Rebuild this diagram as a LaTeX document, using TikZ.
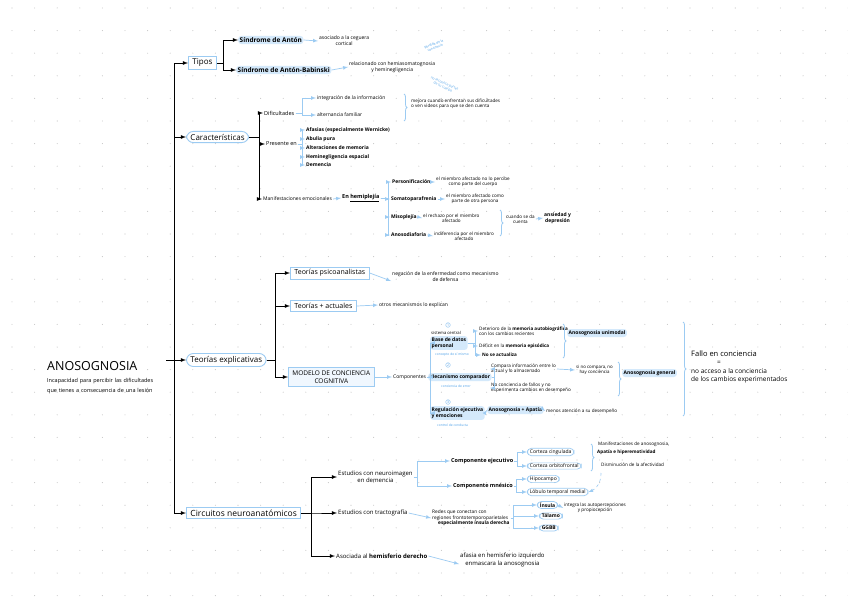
\documentclass[tikz,border=0pt]{standalone}
\usepackage{fontspec}
\setmainfont{Open Sans}
\usetikzlibrary{arrows,positioning}
\usetikzlibrary{decorations.pathreplacing}
\definecolor{lblue}{HTML}{9CCBF2}
\definecolor{hlblue}{HTML}{D4E9FB}
\definecolor{pen}{HTML}{4A9FE8}
\colorlet{dotc}{black!22}

\begin{document}
\begin{tikzpicture}[x=1pt,y=-1pt]
\tikzstyle{note}=[font=\fontsize{5}{5.8}\selectfont,inner sep=1pt,align=left,anchor=west]
\tikzstyle{bnote}=[note,font=\fontsize{5}{5.8}\selectfont\bfseries]
\tikzstyle{lab}=[note,font=\fontsize{6}{7.2}\selectfont]
\tikzstyle{pennote}=[note,text=pen,font=\fontsize{3.3}{3.9}\selectfont,align=center]
\tikzstyle{head}=[font=\fontsize{8}{9.5}\selectfont,anchor=west,draw=lblue,line width=0.9pt,inner xsep=4pt,inner ysep=2.5pt,fill=white]
\tikzstyle{headr}=[head,rounded corners=7pt]
\tikzstyle{hl}=[fill=hlblue,rounded corners=3pt,inner sep=1.5pt]
\tikzstyle{oval}=[draw=lblue,line width=0.7pt,rounded corners=4pt,inner xsep=2.5pt,inner ysep=1.2pt]
\tikzstyle{num}=[circle,draw=lblue,line width=0.5pt,inner sep=0.5pt,text=pen,font=\fontsize{3.5}{4}\selectfont]
\tikzstyle{blk}=[draw=black,line width=0.8pt,-latex]
\tikzstyle{blu}=[draw=lblue,line width=0.7pt,-latex]
\tikzstyle{curly}=[draw=lblue,line width=0.8pt,decorate,decoration={brace,amplitude=3pt}]

\useasboundingbox (0,0) rectangle (848,599);
\fill[white] (0,0) rectangle (848,599);
\foreach \i in {0,...,37}
  \foreach \j in {0,...,26}
    \fill[dotc] (12+\i*22.6,8+\j*22.6) circle (0.55pt);

% title
\node[anchor=west,inner sep=1pt,font=\fontsize{12.5}{14}\selectfont] (anos) at (46,366) {ANOSOGNOSIA};
\node[anchor=north west,inner sep=1pt,align=left,text width=112,font=\fontsize{5.5}{9.6}\selectfont] (anosd) at (46,377) {Incapacidad para percibir las dificultades que tienes a consecuencia de una lesión};

% main branches
\node[head] (tipos) at (188,63) {Tipos};
\node[headr] (carac) at (186,137) {Características};
\node[headr] (teor) at (186,360) {Teorías explicativas};
\node[head,font=\fontsize{8.5}{10}\selectfont] (circ) at (186,513) {Circuitos neuroanatómicos};

\coordinate (sp) at (166,360);
\draw[blk] (sp) -- ++(8,0) |- (tipos.west);
\draw[blk] (sp) -- ++(8,0) |- (carac.west);
\draw[blk] (sp) -- (teor.west);
\draw[blk] (sp) -- ++(8,0) |- (circ.west);

% Tipos
\node[note,hl,font=\fontsize{6.5}{7.5}\selectfont\bfseries] (anton) at (238,40) {Síndrome de Antón};
\node[note,hl,font=\fontsize{6.5}{7.5}\selectfont\bfseries] (babin) at (236,70) {Síndrome de Antón-Babinski};
\draw[blk] (tipos.east) -- ++(6,0) |- (anton.west);
\draw[blk] (tipos.east) -- ++(6,0) |- (babin.west);
\node[note,align=center] (antond) at (318,41) {asociado a la ceguera\\cortical};
\node[note,align=center] (babind) at (348,67) {relacionado con hemiasomatognosia\\y heminegligencia};
\draw[blu] (anton.east) -- (antond.west);
\draw[blu] (babin.east) -- (babind.west);
\node[pennote,rotate=22] (bab1) at (424,50) {pérdida de la\\conciencia};
\node[pennote,rotate=-24] (bab2) at (429,79) {no reconoce partes\\de su cuerpo};

% Caracteristicas
\node[lab,font=\fontsize{5.5}{6.5}\selectfont] (dific) at (263,113) {Dificultades};
\node[lab,font=\fontsize{5.5}{6.5}\selectfont] (pres) at (265,144) {Presente en};
\node[lab,font=\fontsize{5}{6}\selectfont] (manif) at (262,199) {Manifestaciones emocionales};
\draw[blk] (carac.east) -- ++(10,0) |- (dific.west);
\draw[blk] (carac.east) -- ++(10,0) |- (pres.west);
\draw[blk] (carac.east) -- ++(10,0) |- (manif.west);

\node[note] (integ) at (316,98) {integración de la información};
\node[note] (alter) at (316,115) {alternancia familiar};
\draw[blu] (dific.east) -- ++(7,0) |- (integ.west);
\draw[blu] (dific.east) -- ++(7,0) |- (alter.west);
\draw[curly] (404,94) -- (404,121);
\node[note,font=\fontsize{4.6}{5.4}\selectfont] (mejora) at (410,104) {mejora cuando enfrentan sus dificultades\\o ven videos para que se den cuenta};

\node[bnote] (afas) at (305,130) {Afasias (especialmente Wernicke)};
\node[bnote] (abul) at (305,139) {Abulia pura};
\node[bnote] (altm) at (305,148) {Alteraciones de memoria};
\node[bnote] (hemi) at (305,157) {Heminegligencia espacial};
\node[bnote] (dem) at (305,165) {Demencia};
\foreach \c in {afas,abul,altm,hemi,dem}
  \draw[blu] (pres.east) -- ++(4,0) |- (\c.west);

\node[bnote,font=\fontsize{5.5}{6.5}\selectfont\bfseries] (enhem) at (341,198) {En \underline{hemiplejía}};
\draw[blu] (manif.east) -- (enhem.west);
\node[bnote] (pers) at (391,182) {Personificación};
\node[bnote] (soma) at (390,199) {Somatoparafrenia};
\node[bnote] (miso) at (390,217) {Misoplejía};
\node[bnote] (anodia) at (390,235) {Anosodiaforia};
\foreach \c in {pers,soma,miso,anodia}
  \draw[blu] (enhem.east) -- ++(8,0) |- (\c.west);
\node[note,align=center,font=\fontsize{4.6}{5.4}\selectfont] (persd) at (435,182) {el miembro afectado no lo percibe\\como parte del cuerpo};
\node[note,align=center,font=\fontsize{4.6}{5.4}\selectfont] (somad) at (445,199) {el miembro afectado como\\parte de otra persona};
\node[note,align=center,font=\fontsize{4.6}{5.4}\selectfont] (misod) at (422,218) {el rechazo por el miembro\\afectado};
\node[note,align=center,font=\fontsize{4.6}{5.4}\selectfont] (anodiad) at (433,236) {indiferencia por el miembro\\afectado};
\draw[blu] (pers.east) -- (persd.west);
\draw[blu] (soma.east) -- (somad.west);
\draw[blu] (miso.east) -- (misod.west);
\draw[blu] (anodia.east) -- (anodiad.west);
\draw[curly] (500,210) -- (500,236);
\node[note,align=center,font=\fontsize{4.6}{5.4}\selectfont] (cuando) at (505,219) {cuando se da\\cuenta};
\node[bnote,align=center] (ansi) at (543,218) {ansiedad y\\depresión};
\draw[blu] (cuando.east) -- (ansi.west);

% Teorias explicativas
\node[head,font=\fontsize{7}{8}\selectfont] (psico) at (290,273) {Teorías psicoanalistas};
\node[head,font=\fontsize{7}{8}\selectfont] (actual) at (290,306) {Teorías + actuales};
\node[head,fill=hlblue!35,align=center,font=\fontsize{6.5}{8.5}\selectfont,inner ysep=3pt] (modelo) at (288,377) {MODELO DE CONCIENCIA\\COGNITIVA};
\draw[blk] (teor.east) -- ++(9,0) |- (psico.west);
\draw[blk] (teor.east) -- ++(9,0) |- (actual.west);
\draw[blk] (teor.east) -- ++(9,0) |- (modelo.west);
\node[note,align=center] (psicod) at (391,277) {negación de la enfermedad como mecanismo\\de defensa};
\node[note] (actuald) at (378,305) {otros mecanismos lo explican};
\draw[blu] (psico.east) -- ([yshift=-4]psicod.west);
\draw[blu] (actual.east) -- (actuald.west);

\node[note] (comp) at (392,377) {Componentes};
\draw[blu] (modelo.east) -- (comp.west);

\node[bnote,hl] (base) at (430,343) {Base de datos\\personal};
\node[bnote,hl] (compar) at (428,377) {Mecanismo comparador};
\node[bnote,hl] (reg) at (430,413) {Regulación ejecutiva\\y emociones};
\foreach \c in {base,compar,reg}
  \draw[blu] (comp.east) -- ++(3,0) |- (\c.west);
\node[num] (n1) at (448,325) {1};
\node[num] (n2) at (448,365) {2};
\node[num] (n3) at (448,402) {3};
\node[note,font=\fontsize{4.2}{5}\selectfont] (sist) at (430,333) {sistema central};
\node[pennote] (base2) at (434,355) {concepto de sí mismo};
\node[pennote] (compar2) at (440,386) {conciencia de error};
\node[pennote] (reg2) at (436,425) {control de conducta};

\node[note,font=\fontsize{4.6}{5.4}\selectfont] (det) at (478,331) {Deterioro de la \textbf{memoria autobiográfica}\\con los cambios recientes};
\node[note,font=\fontsize{4.6}{5.4}\selectfont] (defic) at (478,346) {Déficit en la \textbf{memoria episódica}};
\node[bnote,font=\fontsize{4.6}{5.4}\selectfont\bfseries] (noact) at (481,355) {No se actualiza};
\foreach \c in {det,defic,noact}
  \draw[blu] (base.east) -- ++(7,0) |- (\c.west);
\draw[curly] (563,324) -- (563,358);
\node[bnote,hl] (anouni) at (567,333) {Anosognosia unimodal};

\node[note,font=\fontsize{4.6}{5.4}\selectfont] (compa) at (490,369) {Compara información entre lo\\actual y lo almacenado};
\node[note,font=\fontsize{4.6}{5.4}\selectfont] (noconc) at (490,388) {No conciencia de fallos y no\\experimenta cambios en desempeño};
\draw[blu] (compar.east) -- ++(3,0) |- (compa.west);
\draw[blu] (compar.east) -- ++(3,0) |- (noconc.west);
\node[note,align=center,font=\fontsize{4.4}{5.2}\selectfont] (sino) at (575,370) {si no compara, no\\hay conciencia};
\draw[blu] (compa.east) -- (sino.west);
\draw[curly] (618,362) -- (618,396);
\node[bnote,hl] (anogen) at (622,373) {Anosognosia general};

\node[bnote,hl] (anoap) at (487,410) {Anosognosia + Apatía};
\node[note,font=\fontsize{4.6}{5.4}\selectfont] (menos) at (545,411) {menos atención a su desempeño};
\draw[blu] (reg.east) -- (anoap.west);
\draw[blu] (anoap.east) -- (menos.west);

\draw[curly] (683,322) -- (683,416);
\node[note,font=\fontsize{6.5}{8.6}\selectfont] (fallo) at (690,367) {{\fontsize{7.5}{8.6}\selectfont Fallo en conciencia}\\\hspace*{26pt}=\\no acceso a la conciencia\\de los cambios experimentados};

% Circuitos neuroanatomicos
\node[lab,align=center] (neuro) at (337,477) {Estudios con neuroimagen\\en demencia};
\node[lab] (tract) at (337,513) {Estudios con tractografía};
\node[lab] (asoc) at (335,556) {Asociada al \textbf{hemisferio derecho}};
\draw[blk] (circ.east) -- ++(10,0) |- (neuro.west);
\draw[blk] (circ.east) -- ++(10,0) |- (tract.west);
\draw[blk] (circ.east) -- ++(10,0) |- (asoc.west);

\node[bnote,font=\fontsize{5.5}{6.5}\selectfont\bfseries] (ejec) at (450,461) {Componente ejecutivo};
\node[bnote,font=\fontsize{5.5}{6.5}\selectfont\bfseries] (mnes) at (452,486) {Componente mnésico};
\draw[blu] (neuro.east) -- ++(4,0) |- (ejec.west);
\draw[blu] (neuro.east) -- ++(4,0) |- (mnes.west);
\node[note,oval,anchor=west] (cing) at (527,452) {Corteza cingulada};
\node[note,oval,anchor=west] (orbit) at (527,466) {Corteza orbitofrontal};
\node[note,oval,anchor=west] (hipo) at (527,479) {Hipocampo};
\node[note,oval,anchor=west] (lob) at (527,492) {Lóbulo temporal medial};
\draw[blu] (ejec.east) -- ++(3,0) |- (cing.west);
\draw[blu] (ejec.east) -- ++(3,0) |- (orbit.west);
\draw[blu] (mnes.east) -- ++(2,0) |- (hipo.west);
\draw[blu] (mnes.east) -- ++(2,0) |- (lob.west);
\draw[curly] (591,444) -- (591,471);
\node[note,font=\fontsize{4.6}{5.4}\selectfont] (manan) at (597,444) {Manifestaciones de anosognosia,};
\node[bnote,font=\fontsize{4.6}{5.4}\selectfont\bfseries] (apat) at (596,452) {Apatía e hiperemotividad};
\node[note,font=\fontsize{4.6}{5.4}\selectfont] (dism) at (600,465) {Disminución de la afectividad};
\coordinate (dsh) at (601,473);
\draw[lblue,dashed,line width=0.6pt,-latex] (dsh) to[bend left=35] (lob.east);

\node[note,font=\fontsize{4.8}{5.7}\selectfont] (redes) at (431,518) {Redes que conectan con\\regiones frontotemporoparietales\\\hspace*{6pt}\textbf{especialmente ínsula derecha}};
\draw[blu] (tract.east) -- (redes.west);
\node[bnote,oval,anchor=west] (ins) at (537,505) {Ínsula};
\node[bnote,oval,anchor=west] (tal) at (539,516) {Tálamo};
\node[bnote,oval,anchor=west] (ggbb) at (539,528) {GGBB};
\foreach \c in {ins,tal,ggbb}
  \draw[blu] (redes.east) -- ++(3,0) |- (\c.west);
\node[note,align=center,font=\fontsize{4.6}{5.4}\selectfont] (insd) at (563,508) {integra las autopercepciones\\y propiocepción};
\draw[blu] (ins.east) -- (insd.west);

\node[lab,align=center] (afasia) at (459,560) {afasia en hemisferio izquierdo\\enmascara la anosognosia};
\draw[blu] (asoc.east) -- ([yshift=-4]afasia.west);
\end{tikzpicture}
\end{document}
